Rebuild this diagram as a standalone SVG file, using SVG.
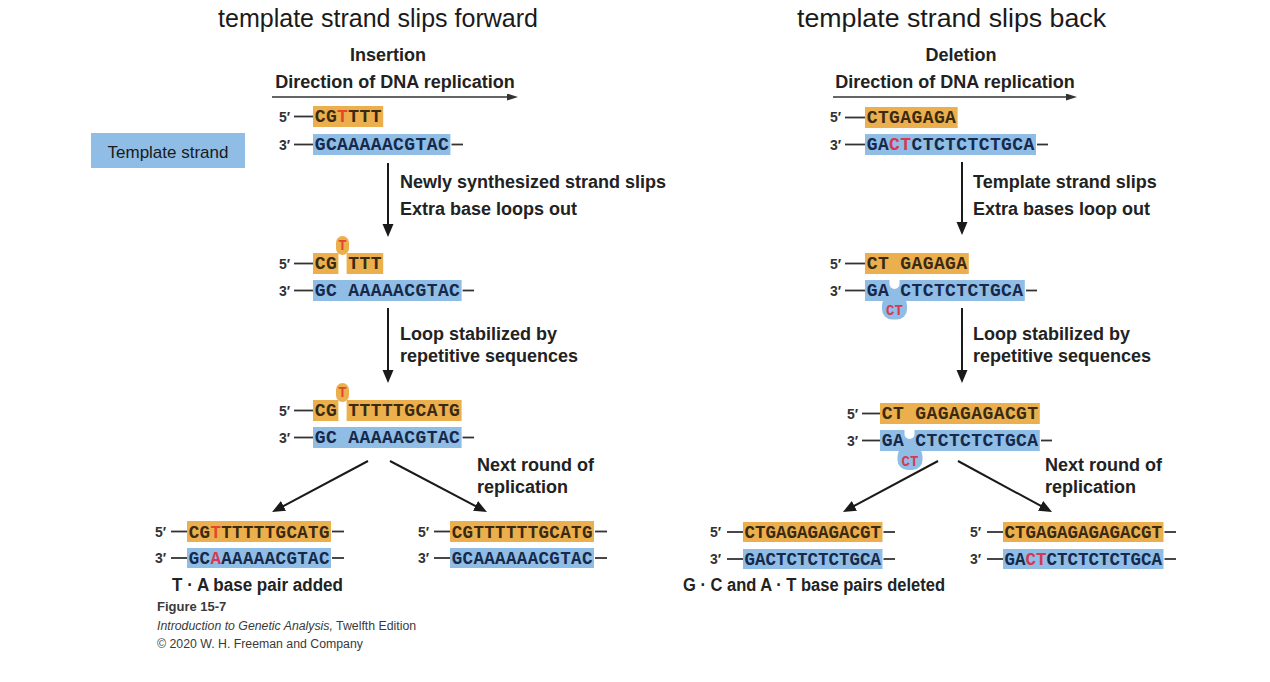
<svg xmlns="http://www.w3.org/2000/svg" width="1270" height="682" viewBox="0 0 1270 682">
<defs>
<style>
.title{font-family:"Liberation Sans",Arial,sans-serif;font-size:25px;fill:#1a1a1a}
.lbl{font-family:"Liberation Sans",Arial,sans-serif;font-size:18px;font-weight:bold;fill:#222}
.mid{text-anchor:middle}
.end5{font-family:"Liberation Sans",Arial,sans-serif;font-size:14px;font-weight:bold;fill:#333}
.seq{font-family:"Liberation Mono","Courier New",monospace;font-weight:bold;font-size:18px;letter-spacing:0.4px}
.seqb{font-family:"Liberation Mono","Courier New",monospace;font-weight:bold;font-size:17.5px}
.so{fill:#3a2a12}
.sb{fill:#17294a}
.ro{fill:#e2472b}
.rb{fill:#d63a52}
.loopt{font-family:"Liberation Mono","Courier New",monospace;font-weight:bold;font-size:14px;text-anchor:middle}
.ob{fill:#ecaf4d}
.bb{fill:#8fbde5}
.dash{stroke:#333;stroke-width:1.8}
.cap{font-family:"Liberation Sans",Arial,sans-serif;fill:#3a3a3a}
.arr{stroke:#1a1a1a;stroke-width:2;fill:none}
.arrd{stroke:#333;stroke-width:1.5;fill:none}
</style>
<marker id="ah" markerUnits="userSpaceOnUse" markerWidth="14" markerHeight="12" refX="5" refY="5.5" orient="auto"><path d="M0,0 L13,5.5 L0,11 z" fill="#1a1a1a"/></marker>
<marker id="ah2" markerUnits="userSpaceOnUse" markerWidth="12" markerHeight="8" refX="3" refY="3.5" orient="auto"><path d="M0,0 L11,3.5 L0,7 z" fill="#333"/></marker>
</defs>
<rect width="1270" height="682" fill="#fff"/>

<g id="titles">
<text class="title" x="218" y="27" textLength="320" lengthAdjust="spacingAndGlyphs">template strand slips forward</text>
<text class="title" x="797" y="27" textLength="309" lengthAdjust="spacingAndGlyphs">template strand slips back</text>
<text class="lbl mid" x="388" y="61">Insertion</text>
<text class="lbl mid" x="961" y="61">Deletion</text>
<text class="lbl mid" x="395" y="88">Direction of DNA replication</text>
<text class="lbl mid" x="955" y="88">Direction of DNA replication</text>
</g>

<g id="template-strand-label">
<rect x="91" y="133" width="154" height="35" class="bb"/>
<text x="168" y="158" text-anchor="middle" font-family="Liberation Sans, Arial, sans-serif" font-size="17px" fill="#1a1a1a">Template strand</text>
</g>

<g id="ins-stage1">
<rect class="ob" x="313" y="106" width="70.2" height="21"/>
<rect class="bb" x="313" y="134" width="137.4" height="21"/>
<text class="end5" x="279" y="121.5">5′</text>
<text class="end5" x="279" y="149.5">3′</text>
<line class="dash" x1="294" y1="116.5" x2="313" y2="116.5"/>
<line class="dash" x1="294" y1="144.5" x2="313" y2="144.5"/>
<line class="dash" x1="451.5" y1="144.5" x2="463" y2="144.5"/>
<text class="seq so" x="314.7" y="122">CG<tspan class="ro">T</tspan>TTT</text>
<text class="seq sb" x="314.7" y="150">GCAAAAACGTAC</text>
</g>

<g id="ins-stage2">
<rect class="ob" x="336" y="236" width="13" height="19" rx="6.5"/>
<rect class="ob" x="313" y="253" width="25.4" height="21"/>
<rect class="ob" x="346.6" y="253" width="36.6" height="21"/>
<rect class="bb" x="313" y="280" width="148.6" height="21"/>
<text class="loopt ro" x="342.5" y="250">T</text>
<text class="end5" x="279" y="268.5">5′</text>
<text class="end5" x="279" y="295.5">3′</text>
<line class="dash" x1="294" y1="263.5" x2="313" y2="263.5"/>
<line class="dash" x1="294" y1="290.5" x2="313" y2="290.5"/>
<line class="dash" x1="462.6" y1="290.5" x2="474" y2="290.5"/>
<text class="seq so" x="314.7" y="269">CG TTT</text>
<text class="seq sb" x="314.7" y="296">GC AAAAACGTAC</text>
</g>

<g id="ins-stage3">
<rect class="ob" x="336" y="383" width="13" height="19" rx="6.5"/>
<rect class="ob" x="313" y="400" width="25.4" height="21"/>
<rect class="ob" x="346.6" y="400" width="115" height="21"/>
<rect class="bb" x="313" y="427" width="148.6" height="21"/>
<text class="loopt ro" x="342.5" y="397">T</text>
<text class="end5" x="279" y="415.5">5′</text>
<text class="end5" x="279" y="442.5">3′</text>
<line class="dash" x1="294" y1="410.5" x2="313" y2="410.5"/>
<line class="dash" x1="294" y1="437.5" x2="313" y2="437.5"/>
<line class="dash" x1="462.6" y1="437.5" x2="474" y2="437.5"/>
<text class="seq so" x="314.7" y="416">CG TTTTTGCATG</text>
<text class="seq sb" x="314.7" y="443">GC AAAAACGTAC</text>
</g>

<g id="ins-result-mutant">
<rect class="ob" x="187" y="521" width="144" height="21"/>
<rect class="bb" x="187" y="548" width="144" height="20"/>
<text class="end5" x="155" y="536.5">5′</text>
<text class="end5" x="155" y="563">3′</text>
<line class="dash" x1="171" y1="531.5" x2="187" y2="531.5"/>
<line class="dash" x1="171" y1="558" x2="187" y2="558"/>
<line class="dash" x1="332" y1="531.5" x2="344" y2="531.5"/>
<line class="dash" x1="332" y1="558" x2="344" y2="558"/>
<text class="seqb so" x="188.7" y="537.5" letter-spacing="0.35">CG<tspan class="ro">T</tspan>TTTTTGCATG</text>
<text class="seqb sb" x="188.7" y="564" letter-spacing="0.35">GC<tspan class="rb">A</tspan>AAAAACGTAC</text>
<text class="lbl" x="172" y="591" font-size="17px" textLength="171" lengthAdjust="spacingAndGlyphs">T · A base pair added</text>
</g>

<g id="ins-result-normal">
<rect class="ob" x="450" y="521" width="144" height="21"/>
<rect class="bb" x="450" y="548" width="144" height="20"/>
<text class="end5" x="418" y="536.5">5′</text>
<text class="end5" x="418" y="563">3′</text>
<line class="dash" x1="434" y1="531.5" x2="450" y2="531.5"/>
<line class="dash" x1="434" y1="558" x2="450" y2="558"/>
<line class="dash" x1="595" y1="531.5" x2="607" y2="531.5"/>
<line class="dash" x1="595" y1="558" x2="607" y2="558"/>
<text class="seqb so" x="451.7" y="537.5" letter-spacing="0.35">CGTTTTTTGCATG</text>
<text class="seqb sb" x="451.7" y="564" letter-spacing="0.35">GCAAAAAACGTAC</text>
</g>

<g id="del-stage1">
<rect class="ob" x="865" y="107" width="92.6" height="21"/>
<rect class="bb" x="865" y="134" width="171" height="21"/>
<text class="end5" x="830" y="122">5′</text>
<text class="end5" x="830" y="149.5">3′</text>
<line class="dash" x1="845" y1="117.5" x2="865" y2="117.5"/>
<line class="dash" x1="845" y1="144.5" x2="865" y2="144.5"/>
<line class="dash" x1="1037" y1="144.5" x2="1048" y2="144.5"/>
<text class="seq so" x="866.7" y="123">CTGAGAGA</text>
<text class="seq sb" x="866.7" y="150">GA<tspan class="rb">CT</tspan>CTCTCTCTGCA</text>
</g>

<g id="del-stage2">
<rect class="ob" x="865" y="253" width="103.8" height="21"/>
<rect class="bb" x="865" y="280" width="159.8" height="21"/>
<rect class="bb" x="882" y="295.5" width="25" height="24" rx="10"/>
<path d="M889.5,279 V284 A5,5 0 0 0 899.5,284 V279 Z" fill="#fff"/>
<text class="loopt rb" x="894.5" y="315" font-size="15px">CT</text>
<text class="end5" x="830" y="268.5">5′</text>
<text class="end5" x="830" y="295.5">3′</text>
<line class="dash" x1="845" y1="263.5" x2="865" y2="263.5"/>
<line class="dash" x1="845" y1="290.5" x2="865" y2="290.5"/>
<line class="dash" x1="1026" y1="290.5" x2="1037" y2="290.5"/>
<text class="seq so" x="866.7" y="269">CT GAGAGA</text>
<text class="seq sb" x="866.7" y="296">GA CTCTCTCTGCA</text>
</g>

<g id="del-stage3">
<rect class="ob" x="880" y="403" width="159.8" height="21"/>
<rect class="bb" x="880" y="430" width="159.8" height="21"/>
<rect class="bb" x="897.5" y="446" width="25" height="24" rx="10"/>
<path d="M904.5,429 V434 A5,5 0 0 0 914.5,434 V429 Z" fill="#fff"/>
<text class="loopt rb" x="910" y="465.5" font-size="15px">CT</text>
<text class="end5" x="847" y="418.5">5′</text>
<text class="end5" x="847" y="445.5">3′</text>
<line class="dash" x1="862" y1="413.5" x2="880" y2="413.5"/>
<line class="dash" x1="862" y1="440.5" x2="880" y2="440.5"/>
<line class="dash" x1="1041" y1="440.5" x2="1052" y2="440.5"/>
<text class="seq so" x="881.7" y="419">CT GAGAGAGACGT</text>
<text class="seq sb" x="881.7" y="446">GA CTCTCTCTGCA</text>
</g>

<g id="del-result-mutant">
<rect class="ob" x="743" y="522" width="139.5" height="20"/>
<rect class="bb" x="743" y="549" width="139.5" height="20"/>
<text class="end5" x="710" y="537">5′</text>
<text class="end5" x="710" y="564">3′</text>
<line class="dash" x1="727" y1="532" x2="743" y2="532"/>
<line class="dash" x1="727" y1="559" x2="743" y2="559"/>
<line class="dash" x1="883.5" y1="532" x2="895" y2="532"/>
<line class="dash" x1="883.5" y1="559" x2="895" y2="559"/>
<text class="seqb so" x="744.5" y="538">CTGAGAGAGACGT</text>
<text class="seqb sb" x="744.5" y="565">GACTCTCTCTGCA</text>
<text class="lbl" x="683" y="591" font-size="17px" textLength="262" lengthAdjust="spacingAndGlyphs">G · C and A · T base pairs deleted</text>
</g>

<g id="del-result-normal">
<rect class="ob" x="1003" y="522" width="160.5" height="20"/>
<rect class="bb" x="1003" y="549" width="160.5" height="20"/>
<text class="end5" x="970" y="537">5′</text>
<text class="end5" x="970" y="564">3′</text>
<line class="dash" x1="987" y1="532" x2="1003" y2="532"/>
<line class="dash" x1="987" y1="559" x2="1003" y2="559"/>
<line class="dash" x1="1164.5" y1="532" x2="1176" y2="532"/>
<line class="dash" x1="1164.5" y1="559" x2="1176" y2="559"/>
<text class="seqb so" x="1004.5" y="538">CTGAGAGAGAGACGT</text>
<text class="seqb sb" x="1004.5" y="565">GA<tspan class="rb">CT</tspan>CTCTCTCTGCA</text>
</g>

<g id="connectors">
<line class="arrd" x1="272" y1="97" x2="510" y2="97" marker-end="url(#ah2)"/>
<line class="arrd" x1="833" y1="97" x2="1069" y2="97" marker-end="url(#ah2)"/>
<line class="arr" x1="388" y1="163" x2="388" y2="229" marker-end="url(#ah)"/>
<line class="arr" x1="388" y1="308" x2="388" y2="375" marker-end="url(#ah)"/>
<line class="arr" x1="962" y1="162" x2="962" y2="227" marker-end="url(#ah)"/>
<line class="arr" x1="962" y1="308" x2="962" y2="375" marker-end="url(#ah)"/>
<line class="arr" x1="368" y1="461" x2="279.1" y2="508.3" marker-end="url(#ah)"/>
<line class="arr" x1="390" y1="461" x2="479.9" y2="508.3" marker-end="url(#ah)"/>
<line class="arr" x1="938" y1="461" x2="850" y2="508.2" marker-end="url(#ah)"/>
<line class="arr" x1="958" y1="461" x2="1045" y2="508.2" marker-end="url(#ah)"/>
</g>

<g id="step-labels">
<text class="lbl" x="400" y="188">Newly synthesized strand slips</text>
<text class="lbl" x="400" y="215">Extra base loops out</text>
<text class="lbl" x="400" y="340">Loop stabilized by</text>
<text class="lbl" x="400" y="362">repetitive sequences</text>
<text class="lbl" x="477" y="471">Next round of</text>
<text class="lbl" x="477" y="493">replication</text>
<text class="lbl" x="973" y="188">Template strand slips</text>
<text class="lbl" x="973" y="215">Extra bases loop out</text>
<text class="lbl" x="973" y="340">Loop stabilized by</text>
<text class="lbl" x="973" y="362">repetitive sequences</text>
<text class="lbl" x="1045" y="471">Next round of</text>
<text class="lbl" x="1045" y="493">replication</text>
</g>

<g id="caption">
<text class="cap" x="157" y="611" font-size="13px" font-weight="bold">Figure 15-7</text>
<text class="cap" x="157" y="630" font-size="12.3px"><tspan font-style="italic">Introduction to Genetic Analysis,</tspan> Twelfth Edition</text>
<text class="cap" x="157" y="648" font-size="12.3px">© 2020 W. H. Freeman and Company</text>
</g>
</svg>
